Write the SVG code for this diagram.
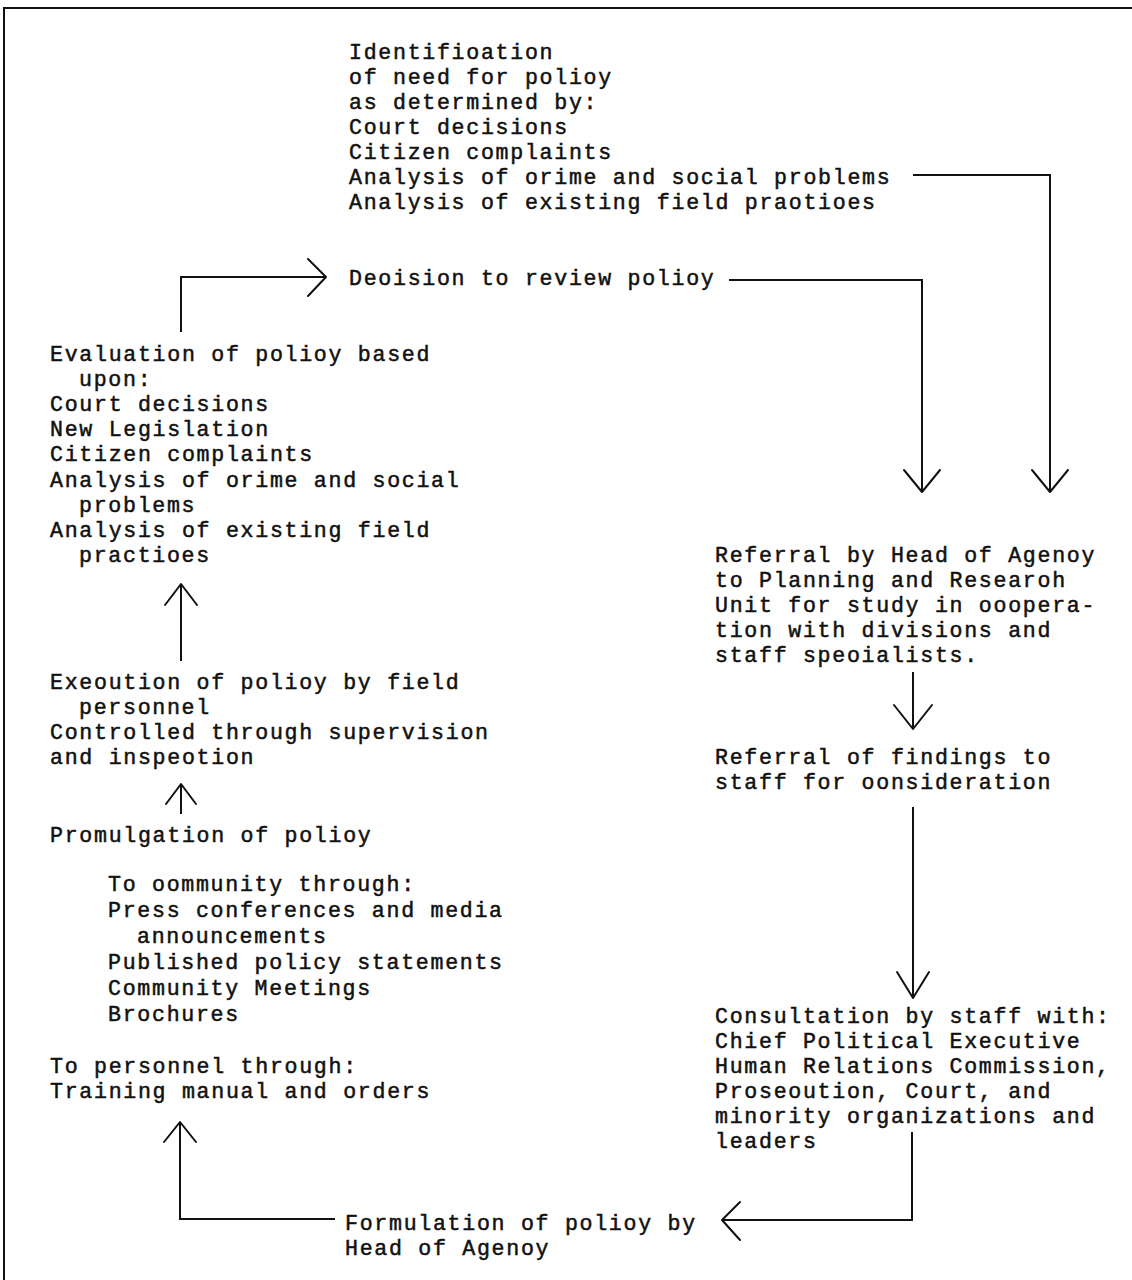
<svg xmlns="http://www.w3.org/2000/svg" width="1132" height="1280" viewBox="0 0 1132 1280">
<style>
  text { font-family: "Liberation Mono", "Courier New", monospace; font-size: 21.6px; letter-spacing: 1.7px; fill: #111; stroke: #111; stroke-width: 0.5px; }
  .ln { fill: none; stroke: #111; stroke-width: 2; }
  .ah { fill: none; stroke: #111; stroke-width: 2; stroke-linecap: round; stroke-linejoin: round; }
</style>
<rect width="1132" height="1280" fill="#fff"/>
<g id="frame"><path class="ln" d="M4,1280 V8 H1132" stroke-width="2.5"/></g>

<g id="connectors">
  <path class="ln" d="M913,175 H1050 V491"/>
  <path class="ah" d="M1032,470 L1050,492 L1068,470"/>
  <path class="ln" d="M729,280 H922 V491"/>
  <path class="ah" d="M904,470 L922,492 L940,470"/>
  <path class="ln" d="M181,332 V277 H325"/>
  <path class="ah" d="M308,259 L326,277 L308,296"/>
  <path class="ln" d="M181,661 V585"/>
  <path class="ah" d="M165,605 L181,584 L197,605"/>
  <path class="ln" d="M181,814 V785"/>
  <path class="ah" d="M166,804 L181,784 L196,804"/>
  <path class="ln" d="M913,672 V728"/>
  <path class="ah" d="M894,705 L913,729 L932,705"/>
  <path class="ln" d="M913,807 V997"/>
  <path class="ah" d="M897,972 L913,998 L929,972"/>
  <path class="ln" d="M912,1132 V1220 H723"/>
  <path class="ah" d="M740,1202 L722,1220 L740,1240"/>
  <path class="ln" d="M335,1219 H180 V1123"/>
  <path class="ah" d="M164,1142 L180,1122 L196,1142"/>
</g>

<g id="identification">
  <text x="349" y="59">Identifioation</text>
  <text x="349" y="84">of need for polioy</text>
  <text x="349" y="109">as determined by:</text>
  <text x="349" y="134">Court decisions</text>
  <text x="349" y="159">Citizen complaints</text>
  <text x="349" y="184">Analysis of orime and social problems</text>
  <text x="349" y="209">Analysis of existing field praotioes</text>
</g>

<g id="decision">
  <text x="349" y="285">Deoision to review polioy</text>
</g>

<g id="evaluation">
  <text x="50" y="361">Evaluation of polioy based</text>
  <text x="79" y="386">upon:</text>
  <text x="50" y="411">Court decisions</text>
  <text x="50" y="436">New Legislation</text>
  <text x="50" y="461">Citizen complaints</text>
  <text x="50" y="487">Analysis of orime and social</text>
  <text x="79" y="512">problems</text>
  <text x="50" y="537">Analysis of existing field</text>
  <text x="79" y="562">practioes</text>
</g>

<g id="execution">
  <text x="50" y="689">Exeoution of polioy by field</text>
  <text x="79" y="714">personnel</text>
  <text x="50" y="739">Controlled through supervision</text>
  <text x="50" y="764">and inspeotion</text>
</g>

<g id="promulgation">
  <text x="50" y="842">Promulgation of polioy</text>
  <text x="108" y="891">To oommunity through:</text>
  <text x="108" y="917">Press conferences and media</text>
  <text x="137" y="943">announcements</text>
  <text x="108" y="969">Published policy statements</text>
  <text x="108" y="995">Community Meetings</text>
  <text x="108" y="1021">Brochures</text>
  <text x="50" y="1073">To personnel through:</text>
  <text x="50" y="1098">Training manual and orders</text>
</g>

<g id="formulation">
  <text x="345" y="1230">Formulation of polioy by</text>
  <text x="345" y="1255">Head of Agenoy</text>
</g>

<g id="referral">
  <text x="715" y="562">Referral by Head of Agenoy</text>
  <text x="715" y="587">to Planning and Researoh</text>
  <text x="715" y="612">Unit for study in ooopera-</text>
  <text x="715" y="637">tion with divisions and</text>
  <text x="715" y="662">staff speoialists.</text>
</g>

<g id="findings">
  <text x="715" y="764">Referral of findings to</text>
  <text x="715" y="789">staff for oonsideration</text>
</g>

<g id="consultation">
  <text x="715" y="1023">Consultation by staff with:</text>
  <text x="715" y="1048">Chief Political Executive</text>
  <text x="715" y="1073">Human Relations Commission,</text>
  <text x="715" y="1098">Proseoution, Court, and</text>
  <text x="715" y="1123">minority organizations and</text>
  <text x="715" y="1148">leaders</text>
</g>
</svg>
